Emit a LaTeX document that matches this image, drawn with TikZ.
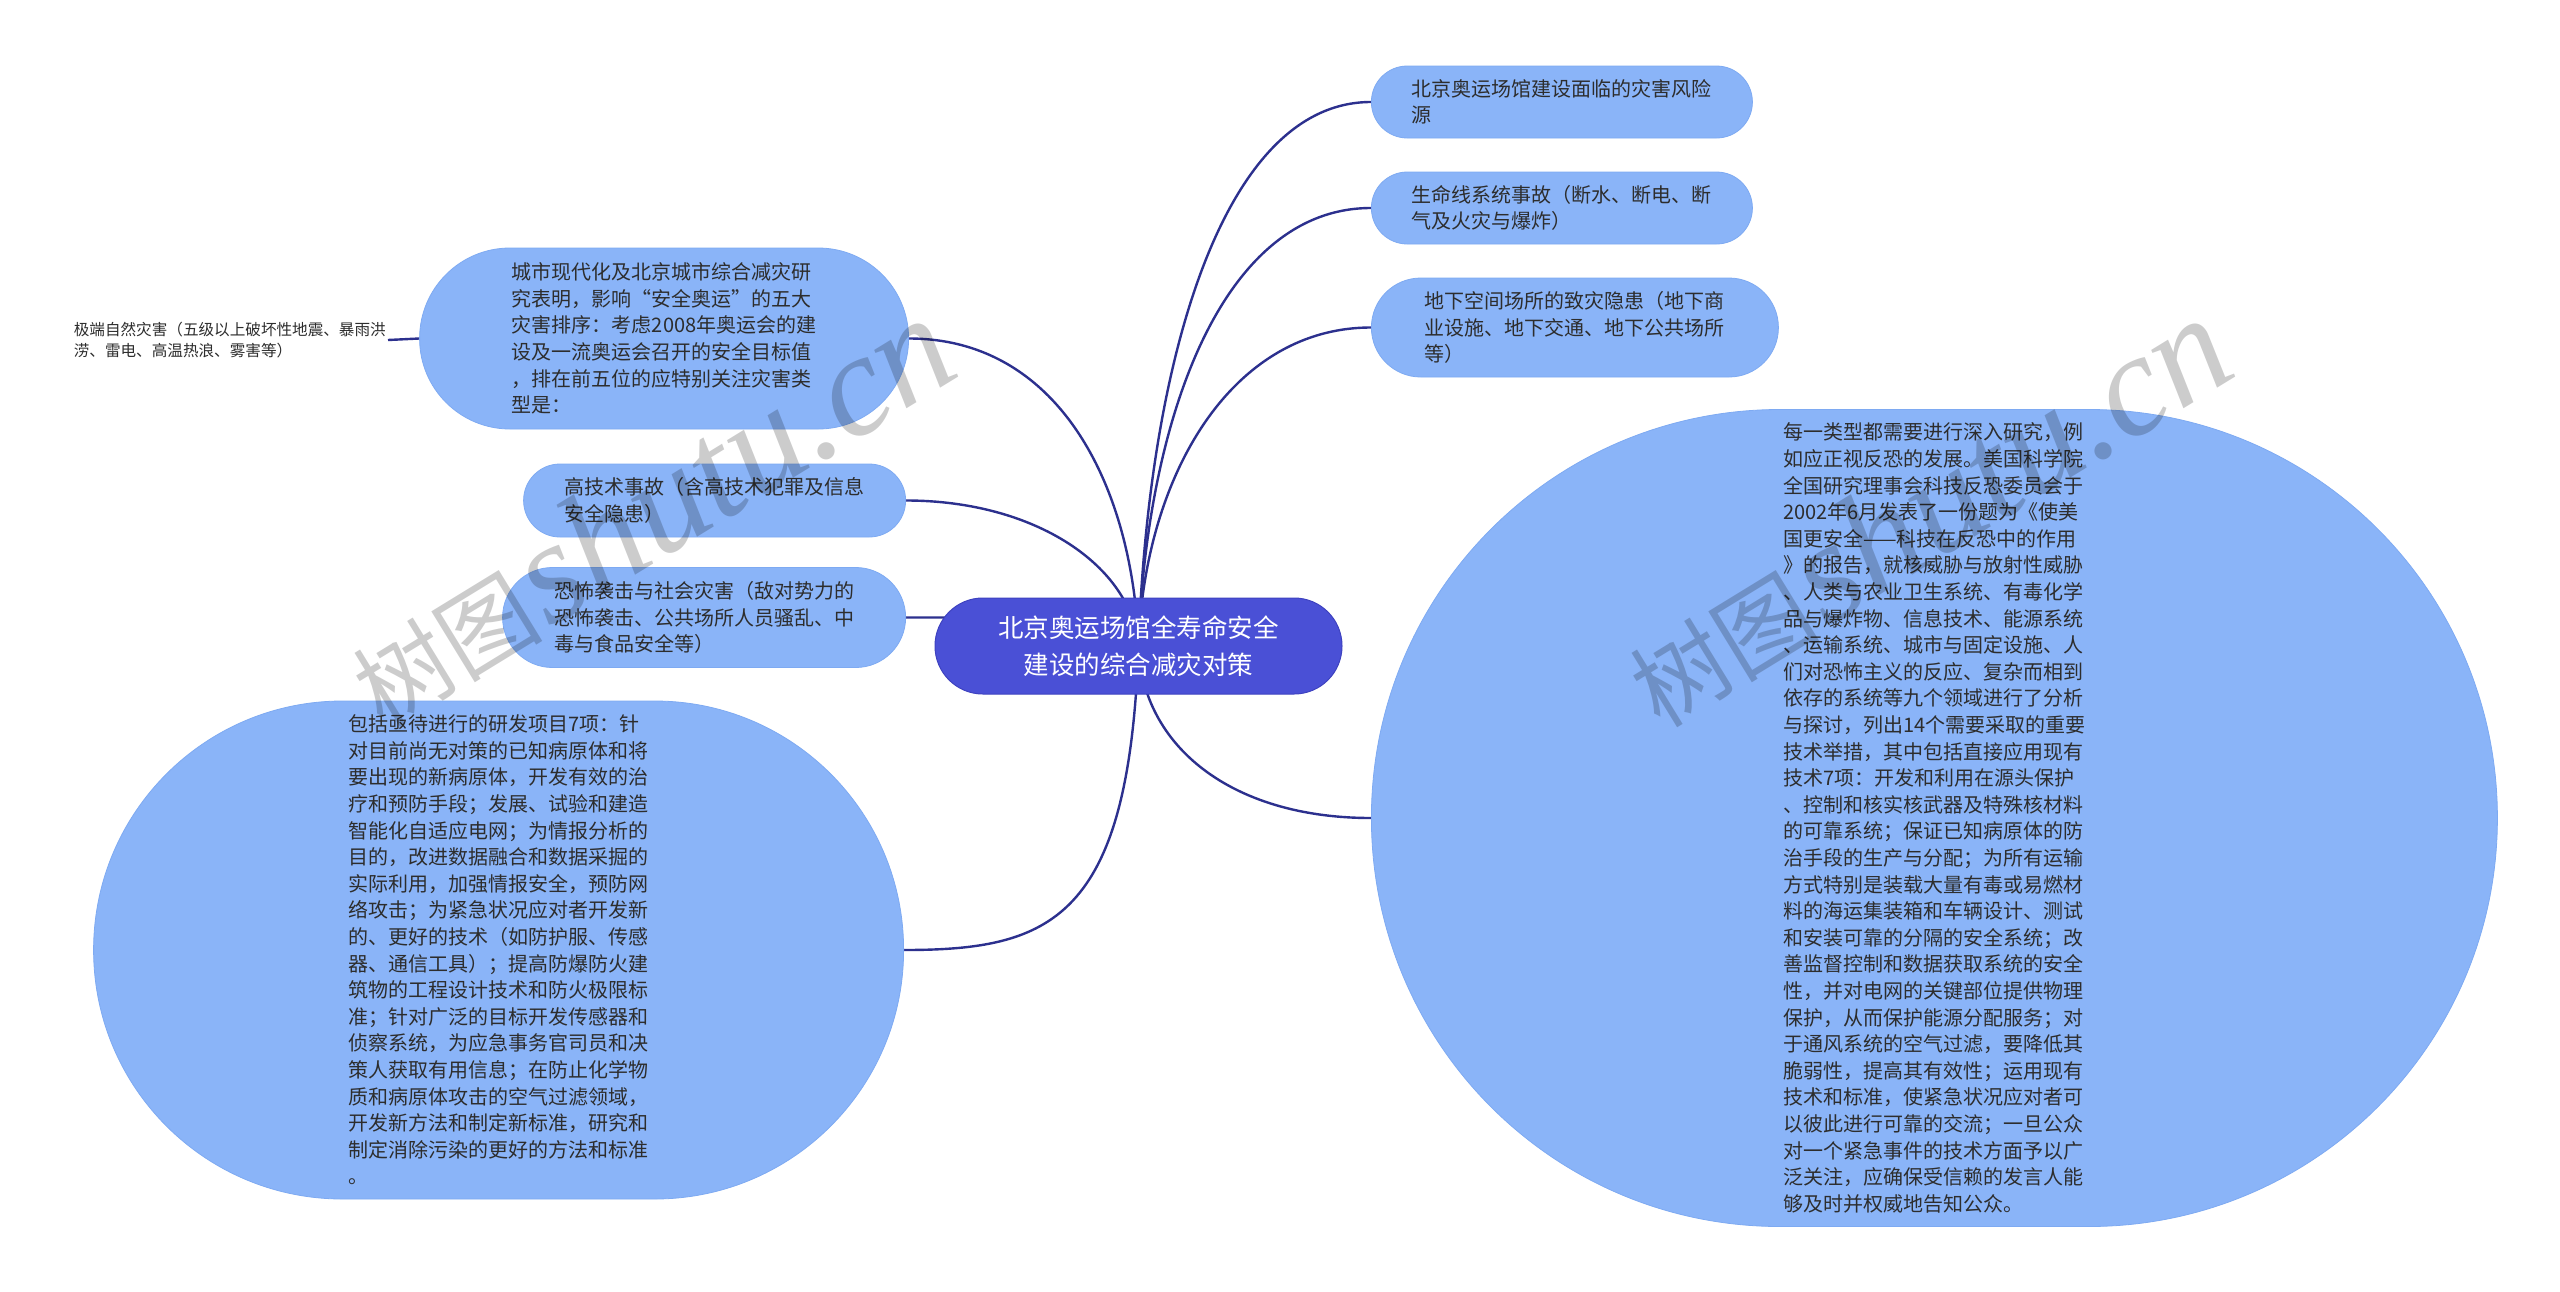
\documentclass[tikz,border=0pt]{standalone}
\usepackage{fontspec}
\setmainfont{Noto Sans CJK SC}
\newfontfamily\wmlatin{Liberation Serif}
\usetikzlibrary{backgrounds}
\definecolor{childfill}{RGB}{138,180,248}
\definecolor{childline}{RGB}{126,170,242}
\definecolor{rootfill}{RGB}{74,80,214}
\definecolor{rootline}{RGB}{62,66,192}
\definecolor{edgecol}{RGB}{44,48,142}
\definecolor{txt}{RGB}{45,45,45}
\begin{document}
\begin{tikzpicture}[x=1pt,y=-1pt,
  childnode/.style={rectangle, fill=childfill, draw=childline, line width=0.8pt, text=txt, align=left, inner xsep=4pt, inner ysep=4pt, font=\fontsize{20pt}{26.6pt}\selectfont},
  rootnode/.style={rectangle, fill=rootfill, draw=rootline, line width=1pt, text=white, align=center, inner xsep=4pt, inner ysep=4pt, font=\fontsize{25.5pt}{37pt}\selectfont},
  plainnode/.style={text=txt, align=left, inner sep=2pt, font=\fontsize{15.6pt}{21pt}\selectfont},
  edge/.style={draw=edgecol, line width=2.4pt},
  wm/.style={text=black, text opacity=0.2, inner sep=0pt}
]
\useasboundingbox (0,0) rectangle (2560,1291);

\node[rootnode, minimum width=407pt, minimum height=96pt, rounded corners=47.9pt] (root) at (1138.5,646) {北京奥运场馆全寿命安全\\建设的综合减灾对策};

\node[childnode, minimum width=381pt, minimum height=72pt, rounded corners=35.9pt, anchor=west] (r1) at (1371,102) {北京奥运场馆建设面临的灾害风险\\源};
\node[childnode, minimum width=381pt, minimum height=72pt, rounded corners=35.9pt, anchor=west] (r2) at (1371,208) {生命线系统事故（断水、断电、断\\气及火灾与爆炸）};
\node[childnode, minimum width=407pt, minimum height=99pt, rounded corners=49.4pt, anchor=west] (r3) at (1371,327.5) {地下空间场所的致灾隐患（地下商\\业设施、地下交通、地下公共场所\\等）};
\node[childnode, minimum width=1126pt, minimum height=817pt, rounded corners=408.4pt, anchor=west] (r4) at (1371,818) {每一类型都需要进行深入研究，例\\如应正视反恐的发展。美国科学院\\全国研究理事会科技反恐委员会于\\2002年6月发表了一份题为《使美\\国更安全——科技在反恐中的作用\\》的报告，就核威胁与放射性威胁\\、人类与农业卫生系统、有毒化学\\品与爆炸物、信息技术、能源系统\\、运输系统、城市与固定设施、人\\们对恐怖主义的反应、复杂而相到\\依存的系统等九个领域进行了分析\\与探讨，列出14个需要采取的重要\\技术举措，其中包括直接应用现有\\技术7项：开发和利用在源头保护\\、控制和核实核武器及特殊核材料\\的可靠系统；保证已知病原体的防\\治手段的生产与分配；为所有运输\\方式特别是装载大量有毒或易燃材\\料的海运集装箱和车辆设计、测试\\和安装可靠的分隔的安全系统；改\\善监督控制和数据获取系统的安全\\性，并对电网的关键部位提供物理\\保护，从而保护能源分配服务；对\\于通风系统的空气过滤，要降低其\\脆弱性，提高其有效性；运用现有\\技术和标准，使紧急状况应对者可\\以彼此进行可靠的交流；一旦公众\\对一个紧急事件的技术方面予以广\\泛关注，应确保受信赖的发言人能\\够及时并权威地告知公众。};

\node[childnode, minimum width=489pt, minimum height=181pt, rounded corners=90.4pt, anchor=east] (l1) at (909,338.5) {城市现代化及北京城市综合减灾研\\究表明，影响“安全奥运”的五大\\灾害排序：考虑2008年奥运会的建\\设及一流奥运会召开的安全目标值\\，排在前五位的应特别关注灾害类\\型是：};
\node[plainnode, anchor=east] (l1a) at (388,340) {极端自然灾害（五级以上破坏性地震、暴雨洪\\涝、雷电、高温热浪、雾害等）};
\node[childnode, minimum width=382pt, minimum height=73pt, rounded corners=36.4pt, anchor=east] (l2) at (906,500.5) {高技术事故（含高技术犯罪及信息\\安全隐患）};
\node[childnode, minimum width=403pt, minimum height=100pt, rounded corners=49.9pt, anchor=east] (l3) at (906,617.5) {恐怖袭击与社会灾害（敌对势力的\\恐怖袭击、公共场所人员骚乱、中\\毒与食品安全等）};
\node[childnode, minimum width=810pt, minimum height=498pt, rounded corners=248.9pt, anchor=east] (l4) at (904,950) {包括亟待进行的研发项目7项：针\\对目前尚无对策的已知病原体和将\\要出现的新病原体，开发有效的治\\疗和预防手段；发展、试验和建造\\智能化自适应电网；为情报分析的\\目的，改进数据融合和数据采掘的\\实际利用，加强情报安全，预防网\\络攻击；为紧急状况应对者开发新\\的、更好的技术（如防护服、传感\\器、通信工具）；提高防爆防火建\\筑物的工程设计技术和防火极限标\\准；针对广泛的目标开发传感器和\\侦察系统，为应急事务官司员和决\\策人获取有用信息；在防止化学物\\质和病原体攻击的空气过滤领域，\\开发新方法和制定新标准，研究和\\制定消除污染的更好的方法和标准\\。};

\begin{scope}[on background layer]
\fill[white] (0,0) rectangle (2560,1291);
\draw[edge] (root.center) to[out=88,in=180,out distance=280,in distance=150] (r1.west);
\draw[edge] (root.center) to[out=88,in=180,out distance=225,in distance=150] (r2.west);
\draw[edge] (root.center) to[out=88,in=180,out distance=170,in distance=140] (r3.west);
\draw[edge] (root.center) to[out=-88,in=180,out distance=100,in distance=140] (r4.west);
\draw[edge] (root.center) to[out=92,in=0,out distance=160,in distance=150] (l1.east);
\draw[edge] (root.center) to[out=95,in=0,out distance=80,in distance=130] (l2.east);
\draw[edge] (root.center) to[out=95,in=0,out distance=30,in distance=100] (l3.east);
\draw[edge] (root.center) to[out=-92,in=0,out distance=274,in distance=147] (l4.east);
\draw[edge] (l1.west) -- (l1a.east);
\end{scope}

\node[wm, rotate=31.5] (wm1) at (650,512) {\fontsize{95pt}{95pt}\selectfont 树图\hspace{4pt}{\wmlatin\itshape\fontsize{145pt}{145pt}\selectfont shutu.cn}};
\node[wm, rotate=31.5] (wm2) at (1927,512) {\fontsize{95pt}{95pt}\selectfont 树图\hspace{4pt}{\wmlatin\itshape\fontsize{145pt}{145pt}\selectfont shutu.cn}};
\end{tikzpicture}
\end{document}
